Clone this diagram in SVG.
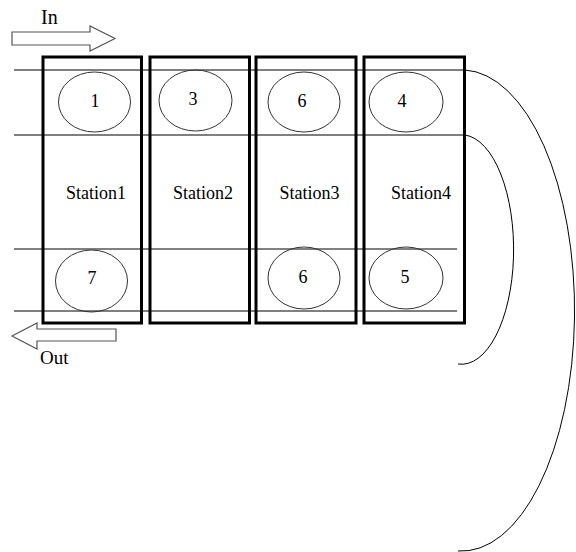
<svg xmlns="http://www.w3.org/2000/svg" width="576" height="552" viewBox="0 0 576 552">
<style>
.box{fill:none;stroke:#000;stroke-width:3}
.ln{fill:none;stroke:#000;stroke-width:1}
.el{fill:none;stroke:#333;stroke-width:1}
.ar{fill:#fff;stroke:#555;stroke-width:1.2}
text{font-family:"Liberation Serif","Times New Roman",serif;font-size:18px;fill:#000;text-anchor:middle}
.big{font-size:20px;text-anchor:start}
</style>
<rect width="576" height="552" fill="#fff"/>
<g id="connectors">
<line class="ln" x1="14" y1="70" x2="465" y2="70"/>
<line class="ln" x1="14" y1="135" x2="465" y2="135"/>
<line class="ln" x1="14" y1="249" x2="457" y2="249"/>
<line class="ln" x1="14" y1="311" x2="457" y2="311"/>
<path class="ln" d="M465,70 A113 240.5 0 0 1 458 551"/>
<path class="ln" d="M465,135 A52 114.5 0 0 1 458 364"/>
</g>
<g id="in-arrow">
<polygon class="ar" points="12,32 90,32 90,26 115,38.5 90,51 90,45 12,45"/>
<text class="big" x="41" y="24">In</text>
</g>
<g id="out-arrow">
<polygon class="ar" points="116,329 37,329 37,323 12,336 37,349 37,341 116,341"/>
<text class="big" x="40" y="364" style="font-size:19px">Out</text>
</g>
<g id="station1">
<rect class="box" x="43" y="57" width="98.5" height="266"/>
<text x="96" y="199">Station1</text>
</g>
<g id="station2">
<rect class="box" x="150" y="57" width="99.5" height="266"/>
<text x="203" y="199">Station2</text>
</g>
<g id="station3">
<rect class="box" x="256" y="57" width="100" height="266"/>
<text x="309.5" y="199">Station3</text>
</g>
<g id="station4">
<rect class="box" x="364" y="57" width="100.5" height="266"/>
<text x="421" y="199">Station4</text>
</g>
<g id="c1"><ellipse class="el" cx="94.5" cy="102" rx="36" ry="30"/><text x="95" y="107">1</text></g>
<g id="c7"><ellipse class="el" cx="91.5" cy="281" rx="36" ry="31"/><text x="92" y="284">7</text></g>
<g id="c3"><ellipse class="el" cx="195.5" cy="100.5" rx="36.5" ry="30.5"/><text x="193" y="105">3</text></g>
<g id="c6a"><ellipse class="el" cx="304" cy="102" rx="36" ry="30"/><text x="302" y="106.5">6</text></g>
<g id="c4"><ellipse class="el" cx="406" cy="102" rx="37" ry="30"/><text x="402" y="106.5">4</text></g>
<g id="c6b"><ellipse class="el" cx="304" cy="278" rx="36" ry="31"/><text x="303" y="283">6</text></g>
<g id="c5"><ellipse class="el" cx="406" cy="278" rx="37" ry="31"/><text x="405" y="283">5</text></g>
</svg>
